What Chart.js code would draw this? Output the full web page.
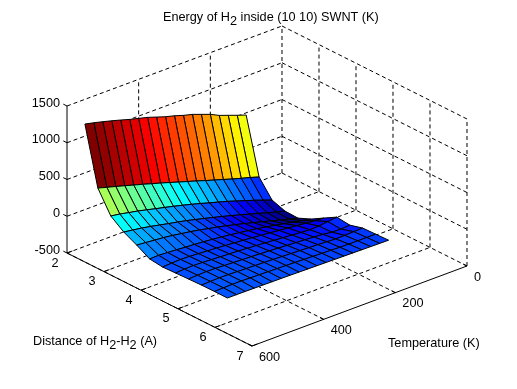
<!DOCTYPE html>
<html><head><meta charset="utf-8">
<style>html,body{margin:0;padding:0;background:#fff}canvas{display:block}</style>
<script src="https://cdn.jsdelivr.net/npm/chart.js@4"></script></head>
<body><canvas id="c" width="517" height="389"></canvas>
<script>
// --- data ---
const distances=[2.0,2.35,2.7,3.05,3.4,3.75,4.1,4.45,4.8,5.15,5.5,5.85];
const temperatures=[550,525,500,475,450,425,400,375,350,325,300,275,250,225,200,175,150,125,100];
const row0=[1164,1136,1105,1072,1037,1000,969,937,896,855,823,783,751,706,661,601,557,512,470];
const row1=[381,346,312,277,241,206,168,132,94,55,17,-21,-61,-99,-137,-176,-212,-246,-285];
const row2=[89,71,45,21,-8,-38,-66,-96,-127,-160,-194,-231,-265,-301,-342,-382,-422,-466,-510];
const row3=[-40,-58,-77,-100,-126,-152,-176,-202,-233,-263,-295,-327,-361,-395,-431,-467,-503,-539,-571];
const row4=[-129,-140,-152,-163,-179,-199,-218,-241,-267,-292,-320,-350,-380,-413,-446,-480,-514,-546,-578];
const row5=[-229,-225,-232,-240,-250,-258,-268,-280,-293,-308,-325,-343,-362,-383,-406,-430,-455,-480,-503];
const row6=[-250,-243,-238,-242,-250,-258,-265,-275,-285,-295,-305,-318,-330,-342,-355,-368,-380,-392,-400];
const row7=[-243,-235,-232,-236,-243,-250,-255,-262,-270,-278,-288,-297,-307,-317,-327,-335,-330,-315,-299];
const row8=[-236,-230,-226,-228,-234,-240,-245,-250,-256,-262,-270,-278,-285,-292,-300,-310,-325,-328,-319];
const row9=[-230,-226,-222,-224,-228,-232,-236,-240,-244,-250,-255,-260,-265,-270,-276,-283,-280,-275,-271];
const row10=[-228,-225,-222,-222,-226,-228,-232,-235,-238,-242,-246,-250,-254,-258,-262,-265,-265,-265,-265];
const row11=[-229,-229,-230,-231,-232,-234,-235,-237,-239,-241,-243,-245,-247,-249,-251,-253,-255,-257,-258];
const energy=[row0,row1,row2,row3,row4,row5,row6,row7,row8,row9,row10,row11];
const dTicks=[2,3,4,5,6,7];
const tTicks=[0,200,400,600];
const zTicks=[-500,0,500,1000,1500];
const colorMin=-580, colorMax=1136;

// oblique projection of (distance, temperature, energy) into the view scales
function project(d,t,z){
  return {x:67+(d-2)*37+(600-t)*0.35833,
          y:253+(d-2)*18.6-(600-t)*0.13333-(z+500)*0.0735};
}
function jet(v){
  const c=Math.max(0,Math.min(1,(v-colorMin)/(colorMax-colorMin)));
  const f=o=>Math.max(0,Math.min(1,1.5-Math.abs(4*c-o)));
  return `rgb(${Math.round(f(3)*255)},${Math.round(f(2)*255)},${Math.round(f(1)*255)})`;
}
const datasets=[];
const base={showLine:true,pointRadius:0,pointHoverRadius:0,tension:0};
// surface cells, nearest first (Chart.js paints the first dataset last)
for(let r=distances.length-2;r>=0;r--){
  for(let i=0;i<temperatures.length-1;i++){
    const corners=[[r,i],[r,i+1],[r+1,i+1],[r+1,i],[r,i]];
    datasets.push({...base,
      data:corners.map(([a,b])=>project(distances[a],temperatures[b],energy[a][b])),
      backgroundColor:jet(energy[r][i+1]),fill:'shape',
      borderColor:'#000',borderWidth:1});
  }
}
function seg(a,b,dash){
  datasets.push({...base,data:[a,b],fill:false,borderColor:'#000',borderWidth:1,borderDash:dash?[4,3]:[]});
}
// solid axes
seg(project(2,600,-500),project(2,600,1500));
seg(project(2,600,-500),project(7,600,-500));
seg(project(7,600,-500),project(7,0,-500));
// ticks
zTicks.forEach(z=>seg(project(2,600,z),project(1.9,600,z)));
dTicks.forEach(d=>seg(project(d,600,-500),project(d,585,-500)));
tTicks.forEach(t=>seg(project(7,t,-500),project(6.9,t,-500)));
// dashed grid on the floor and the two back walls
dTicks.forEach(d=>{ if(d<7) seg(project(d,600,-500),project(d,0,-500),true);
  if(d>2) seg(project(d,0,-500),project(d,0,1500),true);});
tTicks.forEach(t=>{ if(t>0) seg(project(2,t,-500),project(7,t,-500),true);
  if(t<600) seg(project(2,t,-500),project(2,t,1500),true);});
zTicks.forEach(z=>{ if(z>-500) seg(project(2,600,z),project(2,0,z),true);
  seg(project(2,0,z),project(7,0,z),true);});

const FONT='12.7px "Liberation Sans"';
const textPlugin={id:'labels',afterDraw(chart){
  const {ctx,scales:{x,y}}=chart;
  const put=(p,dx,dy,txt,align)=>{
    ctx.textAlign=align;ctx.textBaseline='middle';
    ctx.fillText(txt,x.getPixelForValue(p.x)+dx,y.getPixelForValue(p.y)+dy);};
  const runs=(px,py,parts)=>{
    ctx.textAlign='left';ctx.textBaseline='middle';let cx=px;
    parts.forEach(([t,sub])=>{ctx.fillText(t,cx,py+(sub?4:0));cx+=ctx.measureText(t).width;});};
  ctx.save();ctx.font=FONT;ctx.fillStyle='#000';
  zTicks.forEach(z=>put(project(2,600,z),-7,-3,String(z),'right'));
  dTicks.forEach(d=>put(project(d,600,-500),-12,10,String(d),'center'));
  tTicks.forEach(t=>put(project(7,t,-500),7,11,String(t),'left'));
  runs(163,17,[['Energy of H'],['2',1],[' inside (10 10) SWNT (K)']]);
  runs(33,341,[['Distance of H'],['2',1],['-H'],['2',1],[' (A)']]);
  runs(388,343,[['Temperature (K)']]);
  ctx.restore();
}};
new Chart(document.getElementById('c'),{
  type:'scatter',data:{datasets},plugins:[textPlugin],
  options:{responsive:false,animation:false,
    layout:{padding:0},
    plugins:{legend:{display:false},title:{display:false},tooltip:{enabled:false},
      filler:{propagate:false}},
    events:[],
    scales:{x:{type:'linear',min:0,max:517,display:false},
            y:{type:'linear',min:0,max:389,reverse:true,display:false}}}
});
</script></body></html>
